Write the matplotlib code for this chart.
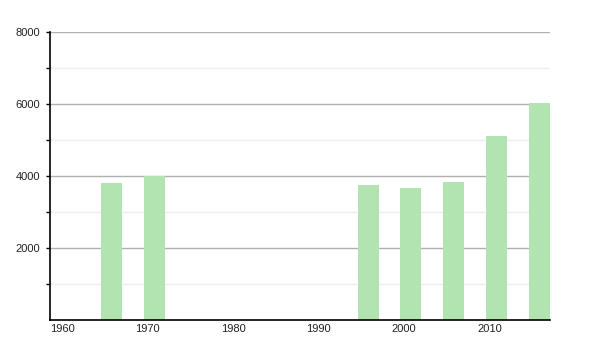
import matplotlib
matplotlib.use("Agg")
import matplotlib.pyplot as plt

plt.rcParams["font.family"] = ["Liberation Sans", "DejaVu Sans"]

# Data
years = [1965, 1970, 1995, 2000, 2005, 2010, 2015]
values = [3800, 4010, 3750, 3680, 3840, 5120, 6040]
x_ticks = [1960, 1970, 1980, 1990, 2000, 2010]
y_major = [2000, 4000, 6000, 8000]
y_minor = [1000, 3000, 5000, 7000]

BAR_COLOR = "#b2e4b2"

fig = plt.figure(figsize=(6, 3.5), dpi=100)
ax = fig.add_axes([50 / 600, 30 / 350, 500 / 600, 288 / 350])

# bars start one year after the data year
ax.bar([y + 1 for y in years], values, width=2.45, align="edge",
       color=BAR_COLOR, edgecolor="none", zorder=2)

ax.set_xlim(1960, 2018.5)
ax.set_ylim(0, 8000)

ax.set_yticks(y_major)
ax.set_yticks(y_minor, minor=True)
ax.yaxis.grid(True, which="major", color="#b0b0b0", linewidth=1, zorder=1)
ax.yaxis.grid(True, which="minor", color="#ededed", linewidth=1, zorder=1)
ax.tick_params(axis="y", which="both", length=3, width=1, direction="out",
               labelsize=8, pad=4, colors="black", labelcolor="#222222")

ax.set_xticks(x_ticks)
ax.set_xticklabels([str(t) for t in x_ticks], ha="left")
ax.tick_params(axis="x", length=0, labelsize=8, pad=3, labelcolor="#222222")

for side in ["top", "right"]:
    ax.spines[side].set_visible(False)
for side in ["left", "bottom"]:
    ax.spines[side].set_color("black")
    ax.spines[side].set_linewidth(1.2)
    ax.spines[side].set_zorder(3)

fig.savefig("out.png", dpi=100)
